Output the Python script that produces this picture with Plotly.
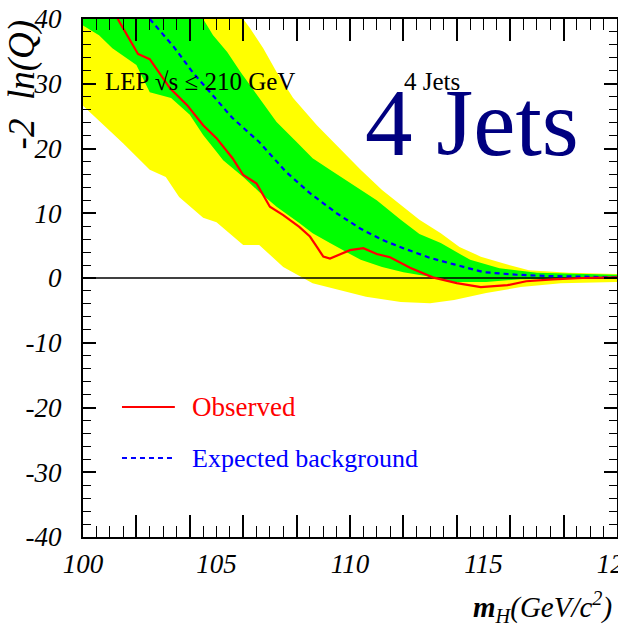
import plotly.graph_objects as go

# ---------------- data ----------------
obs_m = [101.3, 102.06, 102.5, 103.26, 103.9, 104.5, 105.0, 105.6, 106.0, 106.5, 107.0, 107.5,
         108.1, 108.5, 108.76, 109.0, 109.25, 109.6, 110.0, 110.5, 111.0, 111.5, 112.25, 113.1,
         114.0, 114.9, 115.9, 116.6, 117.6, 118.7, 120.0]
obs_v = [40.0, 34.6, 33.8, 29.3, 26.7, 23.6, 21.6, 18.5, 15.9, 14.6, 11.0, 9.7,
         7.9, 6.4, 4.8, 3.3, 3.0, 3.6, 4.3, 4.6, 3.7, 3.2, 1.6, 0.1,
         -0.8, -1.4, -1.1, -0.5, -0.2, 0.0, 0.1]

exp_m = [102.5, 103.4, 104.1, 104.76, 105.6, 106.6, 107.6, 108.5, 109.5, 110.4, 111.2, 112.0,
         113.0, 113.9, 115.0, 116.25, 117.5, 120.0]
exp_v = [40.0, 35.7, 31.8, 28.7, 24.7, 21.0, 16.4, 13.1, 10.0, 7.6, 5.9, 4.6,
         3.1, 2.1, 0.9, 0.5, 0.3, 0.1]

# +-1 sigma band (green)
up1_m = [100.0, 104.5, 104.87, 105.4, 105.9, 106.5, 107.25, 108.0, 108.6, 109.25, 110.0, 111.0,
         111.9, 112.6, 113.4, 114.5, 115.6, 117.0, 120.0]
up1_v = [40.0, 40.0, 37.5, 34.9, 31.8, 28.3, 24.1, 21.0, 18.5, 16.7, 14.7, 12.0,
         9.0, 6.8, 5.4, 2.8, 1.5, 0.8, 0.5]
lo1_m = [100.0, 100.6, 101.1, 102.0, 102.5, 103.3, 104.0, 104.5, 105.0, 105.25, 106.0, 106.6,
         107.25, 108.1, 108.6, 109.25, 109.9, 110.4, 111.2, 112.0, 113.0, 113.9, 115.1, 116.4, 120.0]
lo1_v = [39.0, 37.5, 35.5, 32.9, 28.7, 27.8, 25.2, 22.1, 19.5, 18.2, 15.6, 13.3,
         11.0, 8.5, 6.9, 5.4, 3.9, 2.8, 1.7, 0.9, 0.2, -0.6, -0.6, -0.2, -0.1]

# +-2 sigma band (yellow)
up2_m = [100.0, 106.0, 106.25, 106.75, 107.25, 107.87, 108.76, 109.6, 110.4, 111.2, 112.0,
         112.6, 113.4, 114.1, 114.9, 115.7, 116.7, 118.2, 120.0]
up2_v = [40.0, 40.0, 38.6, 35.5, 31.8, 27.8, 23.6, 20.1, 16.7, 13.6, 11.0,
         9.0, 6.9, 4.8, 3.3, 2.3, 1.2, 0.8, 0.6]
lo2_m = [100.0, 100.5, 101.5, 102.5, 103.1, 103.6, 104.5, 105.0, 106.0, 106.6, 107.5, 108.6,
         109.6, 110.6, 111.9, 113.0, 113.9, 115.1, 116.4, 117.9, 120.0]
lo2_v = [26.6, 24.7, 20.8, 16.7, 15.6, 12.5, 9.3, 8.6, 5.1, 5.1, 1.7, -0.8,
         -1.9, -2.9, -3.7, -3.9, -3.4, -2.3, -1.4, -0.8, -0.6]

x_range = [100, 120]
y_range = [-40, 40]
x_labels = [100, 105, 110, 115, 120]
y_labels = [-40, -30, -20, -10, 0, 10, 20, 30, 40]

SERIF = "Liberation Serif"

fig = go.Figure()

fig.add_trace(go.Scatter(x=up2_m + lo2_m[::-1], y=up2_v + lo2_v[::-1], fill="toself",
                         fillcolor="#ffff00", line=dict(width=0), mode="lines",
                         hoverinfo="skip", showlegend=False))
fig.add_trace(go.Scatter(x=up1_m + lo1_m[::-1], y=up1_v + lo1_v[::-1], fill="toself",
                         fillcolor="#00ff00", line=dict(width=0), mode="lines",
                         hoverinfo="skip", showlegend=False))
# zero reference line
fig.add_trace(go.Scatter(x=x_range, y=[0, 0], mode="lines",
                         line=dict(color="black", width=1.5), showlegend=False))
fig.add_trace(go.Scatter(x=exp_m, y=exp_v, mode="lines", name="Expected background",
                         line=dict(color="#0000ff", width=2.2, dash="5px,4px"),
                         showlegend=False))
fig.add_trace(go.Scatter(x=obs_m, y=obs_v, mode="lines", name="Observed",
                         line=dict(color="#ff0000", width=2.2), showlegend=False))
# invisible trace on the label axis
fig.add_trace(go.Scatter(x=x_range, y=[None, None], xaxis="x2", showlegend=False,
                         hoverinfo="skip"))

tickfont = dict(family=SERIF, size=27, color="black", style="italic")

fig.update_layout(
    width=618, height=634,
    margin=dict(l=83, r=1, t=19, b=97, autoexpand=False),
    paper_bgcolor="white", plot_bgcolor="white",
    showlegend=False,
    xaxis=dict(range=x_range, showgrid=False, zeroline=False, automargin=False,
               showline=True, linecolor="black", linewidth=2, mirror="ticks",
               ticks="inside", tick0=100, dtick=2, ticklen=22, tickwidth=1.5,
               tickcolor="black", showticklabels=False,
               minor=dict(ticks="inside", tick0=100, dtick=0.5, ticklen=11,
                          tickwidth=1.2, tickcolor="black", showgrid=False)),
    xaxis2=dict(range=x_range, overlaying="x", anchor="y", side="bottom",
                showgrid=False, zeroline=False, showline=False, ticks="", automargin=False,
                tickmode="array", tickvals=x_labels, ticktext=[str(v) for v in x_labels],
                tickfont=tickfont, ticklabelstandoff=8, ticklabeloverflow="allow"),
    yaxis=dict(range=y_range, showgrid=False, zeroline=False, automargin=False,
               showline=True, linecolor="black", linewidth=2, mirror="ticks",
               ticks="inside", tickmode="array", tickvals=y_labels,
               ticktext=[str(v) for v in y_labels], ticklen=13, tickwidth=1.5,
               tickcolor="black", tickfont=tickfont, ticklabelstandoff=14,
               minor=dict(ticks="inside", tickmode="linear", tick0=0, dtick=2, ticklen=8,
                          tickwidth=1.2, tickcolor="black", showgrid=False)),
)

annotations = [
    dict(text="<i>-2  ln(Q)</i>", x=-0.114, y=0.872, xref="paper", yref="paper",
         textangle=-90, showarrow=False, xanchor="center", yanchor="middle",
         font=dict(family=SERIF, size=37, color="black")),
    dict(text="<b><i>m</i></b><sub><i>H</i></sub><i>(GeV/c<sup>2</sup>)</i>",
         x=0.995, y=-0.135, xref="paper", yref="paper", showarrow=False,
         xanchor="right", yanchor="middle",
         font=dict(family=SERIF, size=29, color="black")),
    dict(text="4 Jets", x=0.728, y=0.800, xref="paper", yref="paper", showarrow=False,
         xanchor="center", yanchor="middle",
         font=dict(family=SERIF, size=95, color="#000080")),
    dict(text="4 Jets", x=0.654, y=0.880, xref="paper", yref="paper", showarrow=False,
         xanchor="center", yanchor="middle",
         font=dict(family=SERIF, size=25, color="black")),
    dict(text="LEP √s ≤ 210 GeV", x=0.22, y=0.880, xref="paper", yref="paper",
         showarrow=False, xanchor="center", yanchor="middle",
         font=dict(family=SERIF, size=25, color="black")),
    dict(text="Observed", x=0.2004, y=0.251, xref="paper", yref="paper", showarrow=False,
         xanchor="left", yanchor="middle",
         font=dict(family=SERIF, size=27, color="#ff0000")),
    dict(text="Expected background", x=0.2004, y=0.1525, xref="paper", yref="paper",
         showarrow=False, xanchor="left", yanchor="middle",
         font=dict(family=SERIF, size=26, color="#0000ff")),
]
fig.update_layout(annotations=annotations)

fig.add_shape(type="line", xref="paper", yref="paper", x0=0.073, x1=0.172,
              y0=0.251, y1=0.251, line=dict(color="#ff0000", width=2.2))
fig.add_shape(type="line", xref="paper", yref="paper", x0=0.073, x1=0.172,
              y0=0.1525, y1=0.1525, line=dict(color="#0000ff", width=2.2, dash="5px,4px"))

fig.write_html("out.html", config=dict(displayModeBar=False))
